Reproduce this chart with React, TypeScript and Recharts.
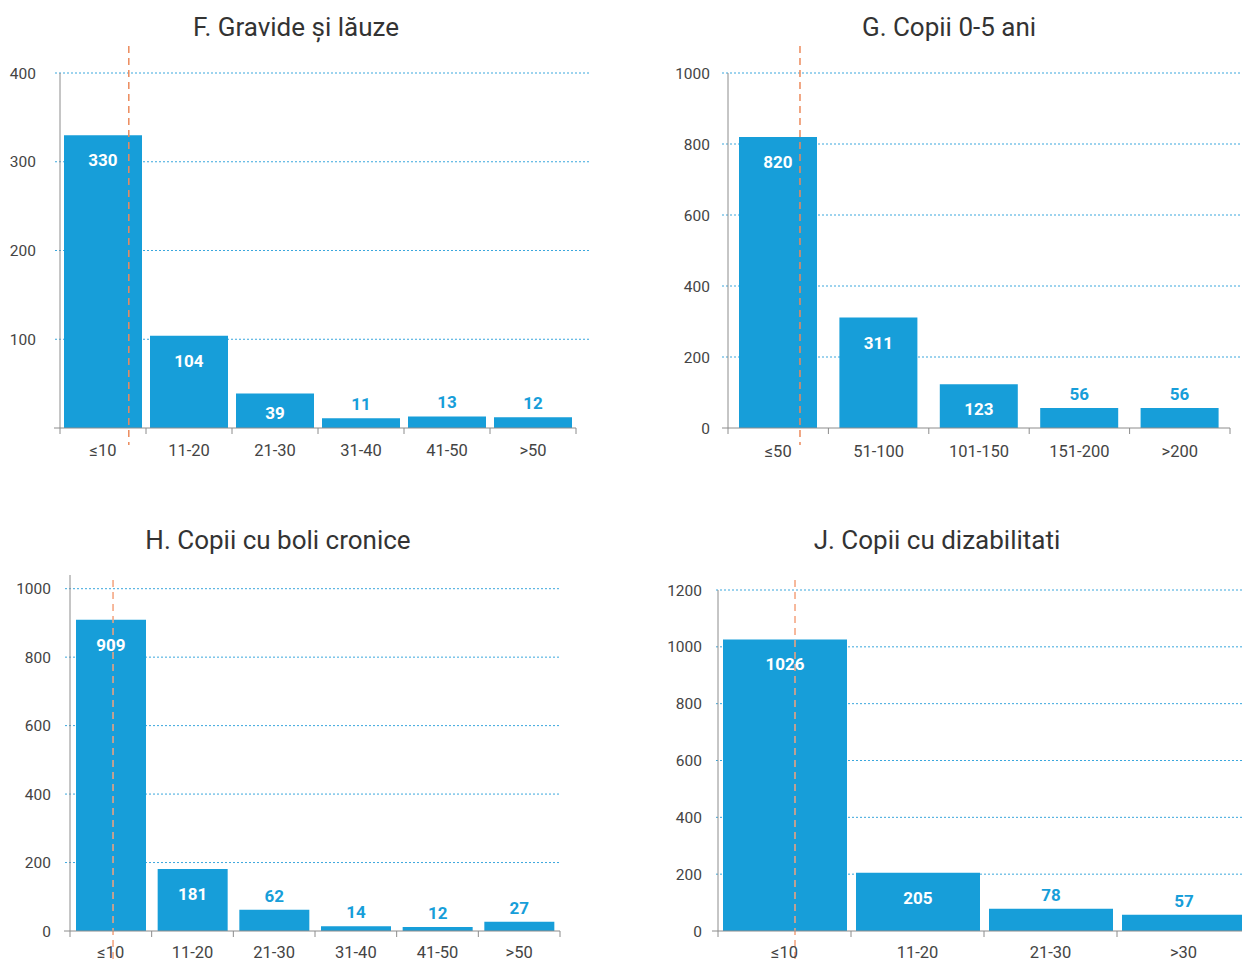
import { BarChart, Bar, XAxis, YAxis, CartesianGrid, ReferenceLine, LabelList } from 'recharts';

// F. Gravide si lauze
const gravideCats = ['≤10', '11-20', '21-30', '31-40', '41-50', '>50'];
const gravideVals = [330, 104, 39, 11, 13, 12];
const gravideTicks = [0, 100, 200, 300, 400];

// G. Copii 0-5 ani
const copiiCats = ['≤50', '51-100', '101-150', '151-200', '>200'];
const copiiVals = [820, 311, 123, 56, 56];
const copiiTicks = [0, 200, 400, 600, 800, 1000];

// H. Copii cu boli cronice
const croniceCats = ['≤10', '11-20', '21-30', '31-40', '41-50', '>50'];
const croniceVals = [909, 181, 62, 14, 12, 27];
const croniceTicks = [0, 200, 400, 600, 800, 1000];

// J. Copii cu dizabilitati
const dizabCats = ['≤10', '11-20', '21-30', '>30'];
const dizabVals = [1026, 205, 78, 57];
const dizabTicks = [0, 200, 400, 600, 800, 1000, 1200];

const BLUE = '#179ed9';
const GREY = '#8c8c8c';
const TEXT = '#444';
const FONT = 'Roboto, "Liberation Sans", sans-serif';

type PanelProps = {
  title: string;
  cats: string[];
  vals: number[];
  ticks: number[];
  domainMax: number;
  showZero: boolean;
  box: { left: number; top: number; w: number; h: number };
  plot: { l: number; r: number; t: number; b: number };
  barSize: number;
  labelGap: number;
  xLabelDy: number;
  gridExt: [number, number];
  titleX: number;
  titleY: number;
  refPos: number;
  refSpan: [number, number];
  refColor: string;
};

function Panel(p: PanelProps) {
  const data = p.cats.map((c, i) => ({ cat: c, value: p.vals[i] }));
  const n = p.cats.length;
  const bw = (p.plot.r - p.plot.l) / n;
  const topIsTick = p.ticks.includes(p.domainMax);

  const XTick = (props: any) => {
    const { x, y, payload, index } = props;
    const half = bw / 2;
    return (
      <g>
        <line x1={x - half} x2={x - half} y1={y} y2={y + 6} stroke={GREY} />
        {index === n - 1 && <line x1={x + half} x2={x + half} y1={y} y2={y + 6} stroke={GREY} />}
        {index === 0 && <line x1={x - half - 6} x2={x - half} y1={y} y2={y} stroke={GREY} />}
        <text x={x} y={y + p.xLabelDy} textAnchor="middle" fontSize={16.5} fill={TEXT} fontFamily={FONT}>
          {payload.value}
        </text>
      </g>
    );
  };

  const gridLine = (g: any) => {
    if (Math.abs(g.y1 - p.plot.b) < 0.5) return <g key={g.key} />;
    if (!topIsTick && Math.abs(g.y1 - p.plot.t) < 0.5) return <g key={g.key} />;
    return (
      <line
        key={g.key}
        x1={g.x1 - p.gridExt[0]}
        x2={g.x2 + p.gridExt[1]}
        y1={g.y1}
        y2={g.y2}
        stroke="#3aa7dd"
        strokeDasharray="2 2"
        strokeWidth={1}
      />
    );
  };

  const renderLabel = (lp: any) => {
    const { x, y, width, height, value } = lp;
    const cx = x + width / 2;
    if (height > 30) {
      return (
        <text x={cx} y={y + Math.min(25, height - 15)} textAnchor="middle" dominantBaseline="central"
          fontSize={17} fontWeight={700} fill="#fff" fontFamily={FONT}>
          {value}
        </text>
      );
    }
    return (
      <text x={cx} y={y - 14} textAnchor="middle" dominantBaseline="central"
        fontSize={17} fontWeight={700} fill={BLUE} fontFamily={FONT}>
        {value}
      </text>
    );
  };

  return (
    <div style={{ position: 'absolute', left: p.box.left, top: p.box.top, width: p.box.w, height: p.box.h }}>
      <BarChart
        width={p.box.w}
        height={p.box.h}
        data={data}
        margin={{ top: p.plot.t, right: p.box.w - p.plot.r, bottom: 0, left: 0 }}
        style={{ position: 'absolute', left: 0, top: 0 }}
      >
        <CartesianGrid vertical={false} horizontal={gridLine} />
        <XAxis
          dataKey="cat"
          interval={0}
          height={p.box.h - p.plot.b}
          tickSize={0}
          tickMargin={0}
          tickLine={false}
          axisLine={{ stroke: GREY }}
          tick={XTick}
        />
        <YAxis
          width={p.plot.l}
          domain={[0, p.domainMax]}
          ticks={p.ticks}
          allowDataOverflow
          tickLine={false}
          tickSize={0}
          tickMargin={p.labelGap}
          axisLine={{ stroke: GREY }}
          tick={{ fontSize: 15.5, fill: TEXT, fontFamily: FONT }}
          tickFormatter={(v: number) => (v === 0 && !p.showZero ? '' : String(v))}
        />
        <Bar dataKey="value" fill={BLUE} barSize={p.barSize} isAnimationActive={false}>
          <LabelList dataKey="value" content={renderLabel} />
        </Bar>
        <ReferenceLine
          x={p.cats[0]}
          ifOverflow="visible"
          shape={(s: any) => {
            const xx = s.x1 + (p.refPos - 0.5) * bw;
            return (
              <line x1={xx} x2={xx} y1={p.refSpan[0]} y2={p.refSpan[1]}
                stroke={p.refColor} strokeDasharray="7 5" strokeWidth={1.5} />
            );
          }}
        />
      </BarChart>
      <div
        style={{
          position: 'absolute',
          left: p.titleX,
          top: p.titleY - 16,
          transform: 'translateX(-50%)',
          whiteSpace: 'nowrap',
          fontFamily: FONT,
          fontSize: 26,
          fontWeight: 400,
          lineHeight: '32px',
          color: '#333',
        }}
      >
        {p.title}
      </div>
    </div>
  );
}

export default function App() {
  return (
    <div style={{ position: 'absolute', left: 0, top: 0, width: 1242, height: 963, overflow: 'hidden', background: '#fff' }}>
      <Panel
        title="F. Gravide și lăuze"
        cats={gravideCats}
        vals={gravideVals}
        ticks={gravideTicks}
        domainMax={400}
        showZero={false}
        box={{ left: 0, top: 0, w: 621, h: 481 }}
        plot={{ l: 60, r: 576, t: 73, b: 428 }}
        barSize={78}
        labelGap={24}
        xLabelDy={28}
        gridExt={[5, 14]}
        titleX={296}
        titleY={27}
        refPos={0.8}
        refSpan={[46, 445]}
        refColor="#ec8a5c"
      />
      <Panel
        title="G. Copii 0-5 ani"
        cats={copiiCats}
        vals={copiiVals}
        ticks={copiiTicks}
        domainMax={1000}
        showZero={true}
        box={{ left: 621, top: 0, w: 621, h: 481 }}
        plot={{ l: 107, r: 609, t: 73, b: 428 }}
        barSize={78}
        labelGap={18}
        xLabelDy={29}
        gridExt={[6, 10]}
        titleX={328}
        titleY={27}
        refPos={0.717}
        refSpan={[46, 445]}
        refColor="#ec8a5c"
      />
      <Panel
        title="H. Copii cu boli cronice"
        cats={croniceCats}
        vals={croniceVals}
        ticks={croniceTicks}
        domainMax={1040}
        showZero={true}
        box={{ left: 0, top: 481, w: 621, h: 482 }}
        plot={{ l: 70, r: 560, t: 94, b: 450 }}
        barSize={70}
        labelGap={19}
        xLabelDy={27}
        gridExt={[5, 0]}
        titleX={278}
        titleY={59}
        refPos={0.527}
        refSpan={[99, 482]}
        refColor="#f4a27c"
      />
      <Panel
        title="J. Copii cu dizabilitati"
        cats={dizabCats}
        vals={dizabVals}
        ticks={dizabTicks}
        domainMax={1200}
        showZero={true}
        box={{ left: 621, top: 481, w: 640, h: 482 }}
        plot={{ l: 97, r: 629, t: 109, b: 450 }}
        barSize={124}
        labelGap={16}
        xLabelDy={27}
        gridExt={[2, 10]}
        titleX={316}
        titleY={59}
        refPos={0.579}
        refSpan={[99, 482]}
        refColor="#f4a27c"
      />
    </div>
  );
}
